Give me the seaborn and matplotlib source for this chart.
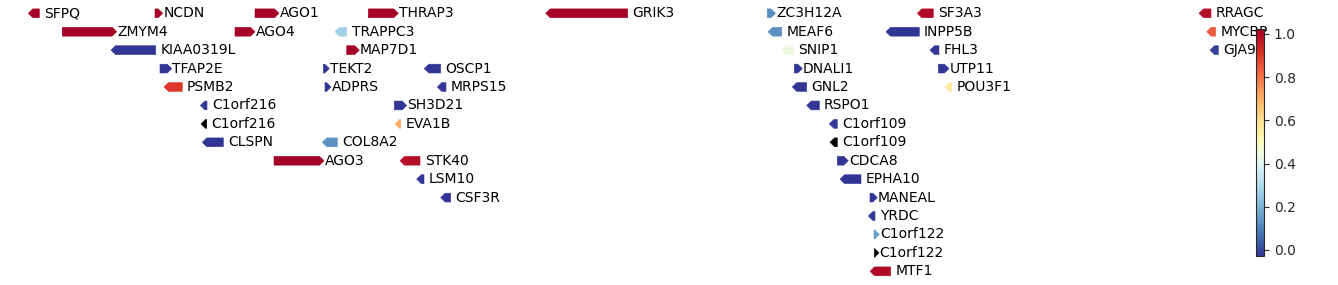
import numpy as np
import matplotlib
matplotlib.use("Agg")
import matplotlib.pyplot as plt
import seaborn as sns
from matplotlib.colors import Normalize
from matplotlib.cm import ScalarMappable

sns.set_style("white")
plt.rcParams['font.family'] = ['DejaVu Sans']

# ---- data (track position units, row index, strand, score) ----
genes = ["SFPQ", "NCDN", "AGO1", "THRAP3", "GRIK3", "ZC3H12A", "SF3A3", "RRAGC",
         "ZMYM4", "AGO4", "TRAPPC3", "MEAF6", "INPP5B", "MYCBP",
         "KIAA0319L", "MAP7D1", "SNIP1", "FHL3", "GJA9",
         "TFAP2E", "TEKT2", "OSCP1", "DNALI1", "UTP11",
         "PSMB2", "ADPRS", "MRPS15", "GNL2", "POU3F1",
         "C1orf216", "SH3D21", "RSPO1",
         "C1orf216", "EVA1B", "C1orf109",
         "CLSPN", "COL8A2", "C1orf109",
         "AGO3", "STK40", "CDCA8",
         "LSM10", "EPHA10",
         "CSF3R", "MANEAL",
         "YRDC",
         "C1orf122",
         "C1orf122",
         "MTF1"]
starts = [28.3, 155.0, 255.0, 368.3, 545.7, 767.3, 917.3, 1199.0,
          62.3, 235.0, 335.0, 768.0, 886.0, 1206.7,
          111.0, 346.7, 781.7, 930.0, 1210.0,
          160.0, 323.3, 424.3, 794.3, 938.3,
          164.0, 325.0, 437.3, 792.3, 945.0,
          200.3, 394.3, 806.7,
          201.0, 395.0, 829.3,
          202.3, 322.3, 830.0,
          274.0, 400.0, 837.3,
          416.7, 840.0,
          440.7, 870.0,
          868.3,
          874.0,
          874.3,
          870.0]
ends = [39.3, 162.7, 279.0, 398.3, 627.7, 775.5, 933.3, 1211.0,
        116.7, 255.0, 346.7, 781.7, 919.3, 1215.7,
        155.7, 359.3, 793.3, 939.0, 1218.3,
        171.7, 329.3, 440.7, 802.3, 949.0,
        182.3, 331.0, 446.0, 806.7, 951.7,
        207.0, 406.7, 819.3,
        206.7, 400.7, 837.3,
        223.3, 337.3, 837.3,
        324.0, 420.0, 848.3,
        424.0, 861.0,
        450.7, 877.3,
        875.0,
        879.3,
        879.0,
        890.7]
strands = ["-", "+", "+", "+", "-", "+", "-", "-",
           "+", "+", "-", "-", "-", "-",
           "-", "+", "-", "-", "-",
           "+", "+", "-", "+", "+",
           "-", "+", "-", "-", "-",
           "-", "+", "-",
           "-", "-", "-",
           "-", "-", "-",
           "+", "-", "+",
           "-", "-",
           "-", "+",
           "-",
           "+",
           "+",
           "-"]
rows = [0, 0, 0, 0, 0, 0, 0, 0,
        1, 1, 1, 1, 1, 1,
        2, 2, 2, 2, 2,
        3, 3, 3, 3, 3,
        4, 4, 4, 4, 4,
        5, 5, 5,
        6, 6, 6,
        7, 7, 7,
        8, 8, 8,
        9, 9,
        10, 10,
        11,
        12,
        13,
        14]
scores = [1.02, 1.02, 1.02, 1.02, 1.02, 0.12, 1.0, 0.99,
          1.02, 1.02, 0.27, 0.13, -0.025, 0.84,
          -0.025, 1.02, 0.44, -0.02, -0.01,
          -0.025, -0.025, -0.025, -0.025, -0.025,
          0.9, -0.025, -0.02, -0.025, 0.57,
          -0.02, -0.025, -0.025,
          np.nan, 0.71, -0.02,
          -0.025, 0.13, np.nan,
          1.02, 0.99, -0.025,
          -0.02, -0.025,
          -0.025, -0.025,
          -0.02,
          0.15,
          np.nan,
          1.0]

# ---- figure ----
W, H = 1338, 285
fig = plt.figure(figsize=(W / 100, H / 100), dpi=100)
ax = fig.add_axes([0, 0, 1, 1])
ax.set_xlim(0, W)
row0, row_step = 13.3, 18.43
ax.set_ylim((H - row0) / row_step, -row0 / row_step)
ax.axis("off")

cmap = sns.color_palette("RdYlBu_r", as_cmap=True)
norm = Normalize(vmin=-0.028, vmax=1.023)

half_h = 4.4 / row_step
head = 4.5

for name, s, e, st, r, v in zip(genes, starts, ends, strands, rows, scores):
    color = "black" if np.isnan(v) else cmap(norm(v))
    L = min(head, e - s)
    if st == "+":
        xs = [s, e - L, e, e - L, s]
        tx = e + 0.6
    else:
        xs = [e, s + L, s, s + L, e]
        tx = e + 4.8
    ys = [r - half_h, r - half_h, r, r + half_h, r + half_h]
    ax.fill(xs, ys, color=color, lw=0.4, ec=color)
    ax.text(tx, r, name, ha="left", va="center", fontsize=10, color="black")

# ---- colorbar ----
cax = fig.add_axes([1255.5 / W, (H - 256) / H, 8.5 / W, 227 / H])
sm = ScalarMappable(norm=norm, cmap=cmap)
cb = fig.colorbar(sm, cax=cax, ticks=[0.0, 0.2, 0.4, 0.6, 0.8, 1.0])
cb.ax.tick_params(labelsize=10)
cb.ax.set_yticklabels(["0.0", "0.2", "0.4", "0.6", "0.8", "1.0"])

fig.savefig("out.png", dpi=100)
